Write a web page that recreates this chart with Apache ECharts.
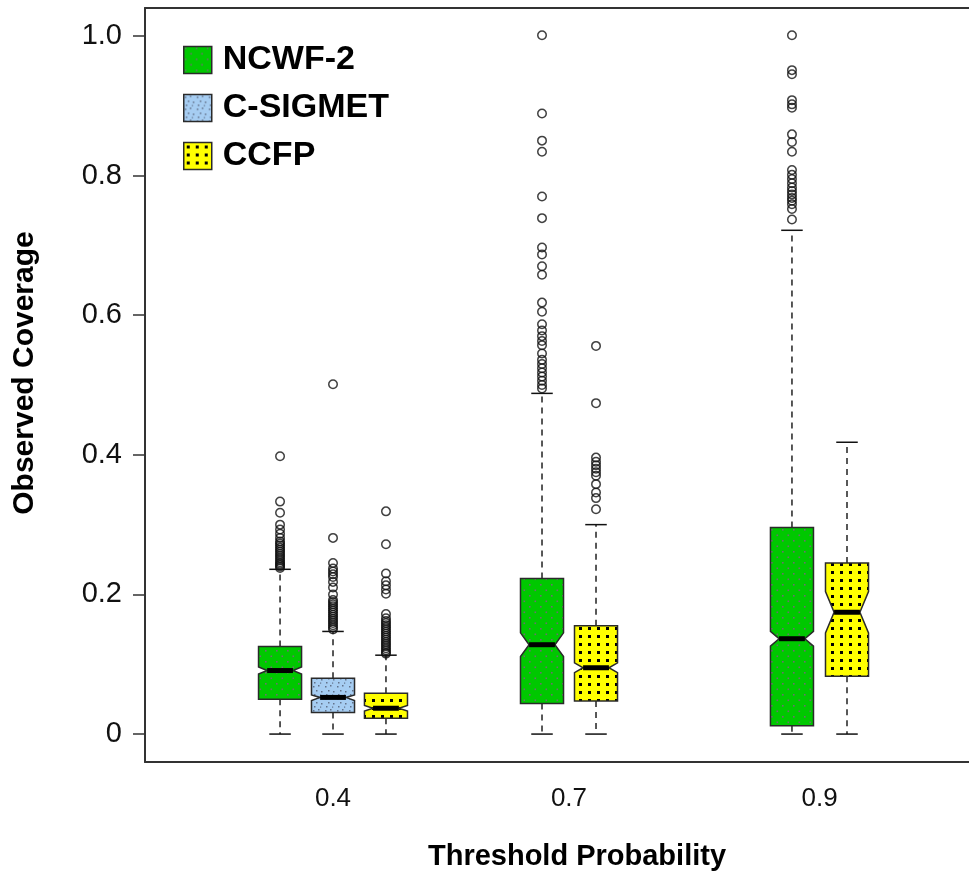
<!DOCTYPE html>
<html>
<head>
<meta charset="utf-8">
<script src="https://cdn.jsdelivr.net/npm/echarts@6/dist/echarts.min.js"></script>
<style>
html, body { margin: 0; padding: 0; background: #fff; }
#main { width: 969px; height: 876px; }
</style>
</head>
<body>
<div id="main"></div>
<script>
// categories and positions on a 0..100 horizontal scale (the plot is cut off on the right)
var thresholds = ['0.4', '0.7', '0.9'];
var groupCenters = [21.76, 49.07, 78.07];
var ncwfPos = [15.63, 45.95, 74.88];
var sigmetPos = [21.76];
var ccfpPos = [27.89, 52.2, 81.25];
var yTicks = [0, 0.2, 0.4, 0.6, 0.8, 1.0];

// [lower whisker, Q1, notch low, median, notch high, Q3, upper whisker]
var ncwfBoxes = [
	[0, 0.050, 0.086, 0.091, 0.096, 0.1256, 0.236],
	[0, 0.0437, 0.111, 0.128, 0.145, 0.223, 0.488],
	[0, 0.0118, 0.126, 0.1366, 0.147, 0.296, 0.7216]
];
var sigmetBoxes = [
	[0, 0.031, 0.048, 0.0525, 0.056, 0.080, 0.147]
];
var ccfpBoxes = [
	[0, 0.0228, 0.033, 0.037, 0.041, 0.0583, 0.113],
	[0, 0.0474, 0.088, 0.095, 0.102, 0.155, 0.300],
	[0, 0.083, 0.145, 0.1745, 0.204, 0.245, 0.418]
];

var ncwfOutliers = [
	[0.398, 0.333, 0.317, 0.300, 0.293, 0.287, 0.281, 0.276, 0.273, 0.270, 0.267, 0.264, 0.261, 0.258, 0.255, 0.252, 0.249, 0.246, 0.244, 0.242, 0.240, 0.238],
	[1.001, 0.889, 0.850, 0.834, 0.770, 0.739, 0.697, 0.687, 0.670, 0.658, 0.618, 0.605, 0.587, 0.578, 0.570, 0.563, 0.557, 0.545, 0.536, 0.530, 0.524, 0.518, 0.512, 0.506, 0.500, 0.495],
	[1.001, 0.951, 0.945, 0.908, 0.902, 0.897, 0.859, 0.848, 0.834, 0.808, 0.801, 0.795, 0.789, 0.783, 0.778, 0.773, 0.768, 0.764, 0.759, 0.752, 0.737]
];
var sigmetOutliers = [
	[0.501, 0.281, 0.245, 0.237, 0.233, 0.229, 0.225, 0.218, 0.210, 0.200, 0.192, 0.189, 0.186, 0.183, 0.180, 0.177, 0.174, 0.171, 0.168, 0.165, 0.162, 0.159, 0.156, 0.153, 0.150]
];
var ccfpOutliers = [
	[0.319, 0.272, 0.230, 0.219, 0.213, 0.207, 0.201, 0.172, 0.166, 0.162, 0.159, 0.156, 0.153, 0.150, 0.147, 0.144, 0.141, 0.138, 0.135, 0.132, 0.129, 0.126, 0.123, 0.120, 0.117, 0.115],
	[0.556, 0.474, 0.396, 0.390, 0.385, 0.380, 0.375, 0.370, 0.358, 0.346, 0.338, 0.322],
	[]
];

var BOX_W = 4.98, NOTCH = 0.6

function dots(bg, w, h, marks, color) {
	var c = document.createElement('canvas'); c.width = w, c.height = h
	var g = c.getContext('2d'); g.fillStyle = bg, g.fillRect(0, 0, w, h), g.fillStyle = color
	marks.forEach(function(m) { g.fillRect(m[0], m[1], m[2], m[2]) })
	return {type: 'pattern', image: c, repeat: 'repeat'}
}
var ncwfFill = dots('#00c800', 11, 11, [[1, 1, 1.6], [6.5, 6.5, 1.6]], '#6e6e6e')
var sigmetFill = dots('#a6cdf2', 12, 12, [[1, 2, 1.5], [6, 1, 1.5], [4, 6, 1.5], [9, 7, 1.5], [2, 10, 1.5], [8, 10.5, 1.2]], '#62728a')
var ccfpFill = dots('#ffff00', 9, 8, [[3, 3, 3]], '#000')

function boxRenderer(fill) {
	return function(params, api) {
		var cx = api.coord([api.value(0), 0])[0], w = api.size([BOX_W, 0])[0]/2
		var y = [1, 2, 3, 4, 5, 6, 7].map(function(i) { return api.coord([0, api.value(i)])[1] })
		var lo = y[0], q1 = y[1], nlo = y[2], med = y[3], nhi = y[4], q3 = y[5], hi = y[6]
		var line = {stroke: '#111', lineWidth: 1.5}, dash = {stroke: '#222', lineWidth: 1.5, lineDash: [6, 5]}
		return {type: 'group', children: [
			{type: 'line', shape: {x1: cx, y1: q3, x2: cx, y2: hi}, style: dash},
			{type: 'line', shape: {x1: cx, y1: q1, x2: cx, y2: lo}, style: dash},
			{type: 'line', shape: {x1: cx-w/2, y1: hi, x2: cx+w/2, y2: hi}, style: line},
			{type: 'line', shape: {x1: cx-w/2, y1: lo, x2: cx+w/2, y2: lo}, style: line},
			{type: 'polygon', shape: {points: [
				[cx-w, q3], [cx+w, q3], [cx+w, nhi], [cx+w*NOTCH, med], [cx+w, nlo],
				[cx+w, q1], [cx-w, q1], [cx-w, nlo], [cx-w*NOTCH, med], [cx-w, nhi]
			]}, style: {fill: fill, stroke: '#2a2a2a', lineWidth: 1.5}},
			{type: 'line', shape: {x1: cx-w*NOTCH, y1: med, x2: cx+w*NOTCH, y2: med}, style: {stroke: '#000', lineWidth: 5}}
		]}
	}
}

function boxSeries(name, pos, boxes, fill) {
	return {name: name, type: 'custom', renderItem: boxRenderer(fill), encode: {x: 0, y: [1, 2, 3, 4, 5, 6, 7]},
		data: pos.map(function(p, i) { return [p].concat(boxes[i]) }), silent: true, z: 2}
}
function outlierSeries(name, pos, outliers) {
	var data = []; pos.forEach(function(p, i) { outliers[i].forEach(function(v) { data.push([p, v]) }) })
	return {name: name, type: 'scatter', data: data, symbol: 'circle', symbolSize: 8.5, silent: true, z: 3,
		itemStyle: {color: 'rgba(255,255,255,0)', borderColor: '#111', borderWidth: 1.5}}
}

var frame = {show: true, onZero: false, lineStyle: {color: '#333', width: 2}}
var chart = echarts.init(document.getElementById('main'), null, {renderer: 'canvas'})
chart.setOption({
	animation: false,
	backgroundColor: '#fff',
	grid: {left: 145, right: 0, top: 8, bottom: 108, show: false, containLabel: false},
	legend: {orient: 'vertical', left: 178, top: 38, itemWidth: 28, itemHeight: 27, itemGap: 14, selectedMode: false,
		textStyle: {fontFamily: 'Liberation Sans', fontWeight: 'bold', fontSize: 34, lineHeight: 27, color: '#000', padding: [0, 0, 0, 6]},
		data: [
			{name: 'NCWF-2', icon: 'rect', itemStyle: {color: ncwfFill, borderColor: '#2a2a2a', borderWidth: 1.5}},
			{name: 'C-SIGMET', icon: 'rect', itemStyle: {color: sigmetFill, borderColor: '#2a2a2a', borderWidth: 1.5}},
			{name: 'CCFP', icon: 'rect', itemStyle: {color: ccfpFill, borderColor: '#2a2a2a', borderWidth: 1.5}}
		]},
	xAxis: [
		{type: 'value', min: 0, max: 95.37, name: 'Threshold Probability', nameLocation: 'middle', nameGap: 80,
			nameTextStyle: {fontFamily: 'Liberation Sans', fontWeight: 'bold', fontSize: 29, color: '#000', padding: [0, 0, 0, 40]},
			axisLine: frame, axisTick: {show: false}, splitLine: {show: false},
			axisLabel: {customValues: groupCenters, margin: 24, fontFamily: 'Liberation Sans', fontSize: 26, color: '#111',
				formatter: function(v) { return thresholds[groupCenters.indexOf(v)] }}},
		{type: 'value', position: 'top', min: 0, max: 95.37, axisLine: frame, axisTick: {show: false}, axisLabel: {show: false}, splitLine: {show: false}}
	],
	yAxis: {type: 'value', min: -0.04, max: 1.04, name: 'Observed Coverage', nameLocation: 'middle', nameGap: 105,
		nameTextStyle: {fontFamily: 'Liberation Sans', fontWeight: 'bold', fontSize: 30, color: '#000', padding: [0, 0, 0, 24]},
		axisLine: frame, splitLine: {show: false},
		axisTick: {show: true, customValues: yTicks, length: 12, lineStyle: {color: '#333', width: 1.5}},
		axisLabel: {customValues: yTicks, margin: 23, fontFamily: 'Liberation Sans', fontSize: 29, color: '#111',
			formatter: function(v) { return v === 0 ? '0' : v.toFixed(1) }}},
	series: [
		boxSeries('NCWF-2', ncwfPos, ncwfBoxes, ncwfFill),
		boxSeries('C-SIGMET', sigmetPos, sigmetBoxes, sigmetFill),
		boxSeries('CCFP', ccfpPos, ccfpBoxes, ccfpFill),
		outlierSeries('NCWF-2', ncwfPos, ncwfOutliers),
		outlierSeries('C-SIGMET', sigmetPos, sigmetOutliers),
		outlierSeries('CCFP', ccfpPos, ccfpOutliers)
	]
})
</script>
</body>
</html>
